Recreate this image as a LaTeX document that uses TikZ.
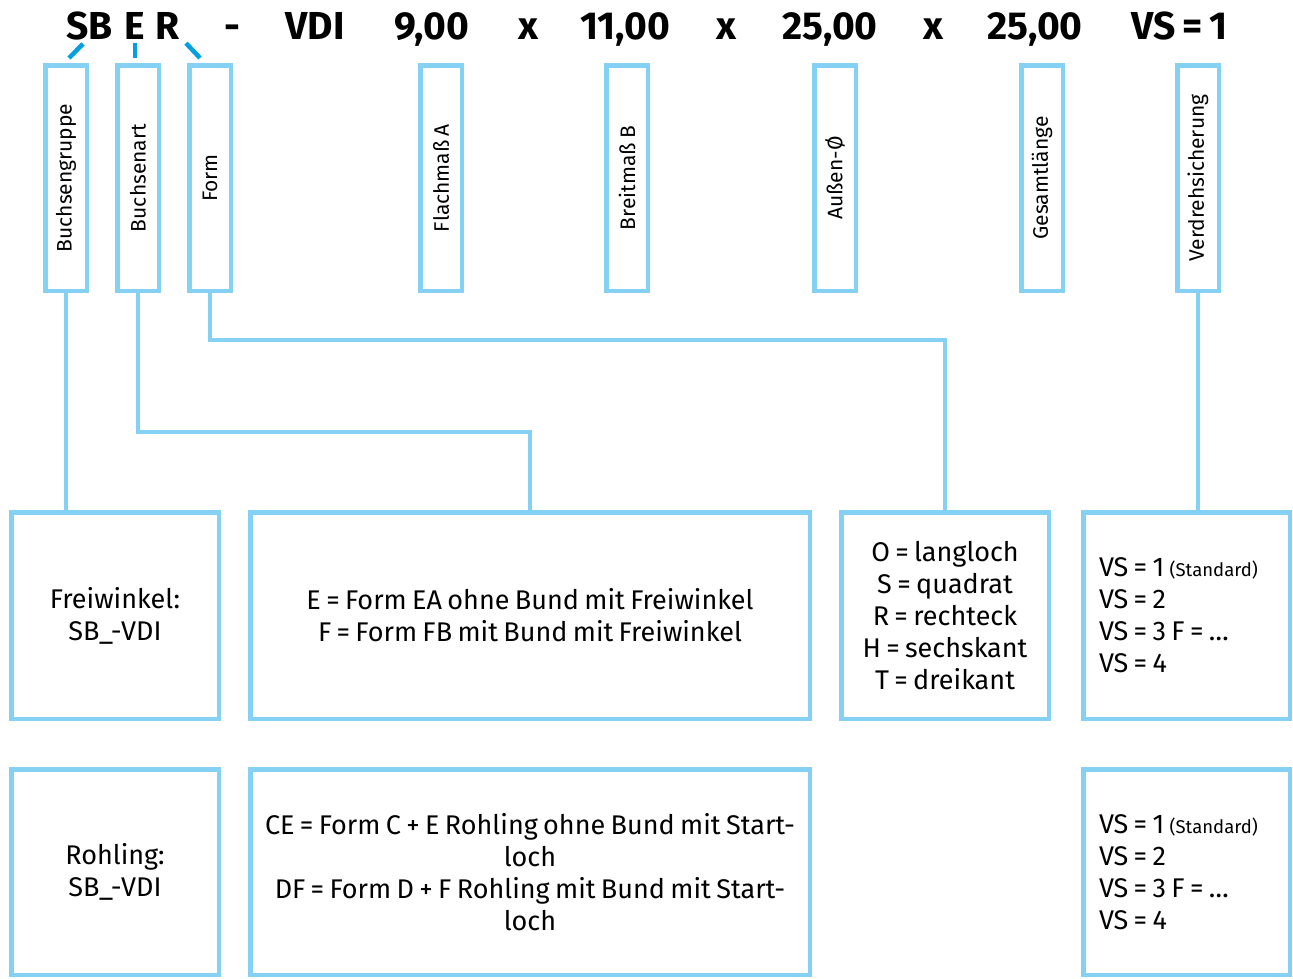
\documentclass[tikz,border=0pt]{standalone}
\usepackage{fontspec}
\setmainfont{Fira Sans}[WordSpace=0.75]
\usepackage{tikz}
\usetikzlibrary{positioning,calc}
\definecolor{framecolor}{HTML}{85D1F3}
\definecolor{tickcolor}{HTML}{00A0E3}

\begin{document}
\begin{tikzpicture}[x=1pt, y=-1pt,
    code/.style={font=\fontsize{39}{40}\selectfont\bfseries, anchor=base, inner sep=0pt},
    field/.style={draw=framecolor, line width=4.5pt, minimum width=41.5pt, minimum height=225.5pt, inner sep=0pt},
    fieldtext/.style={rotate=90, font=\fontsize{21}{24}\selectfont, inner sep=0pt},
    info/.style={draw=framecolor, line width=4.5pt, inner sep=0pt, align=center, font=\fontsize{27}{32}\selectfont},
    link/.style={draw=framecolor, line width=4.5pt},
    tick/.style={draw=tickcolor, line width=4.5pt},
  ]
  \useasboundingbox (0,0) rectangle (1293,978);
  % code line
  \node[code] (sb) at (89.5,39) {SB};
  \node[code] (e) at (135,39) {E};
  \node[code] (r) at (167.5,39) {R};
  \node[code] (dash) at (232,39) {-};
  \node[code] (vdi) at (315,39) {VDI};
  \node[code] (dima) at (432,39) {9,00};
  \node[code] (x1) at (528,39) {x};
  \node[code] (dimb) at (625,39) {11,00};
  \node[code] (x2) at (726,39) {x};
  \node[code] (dimc) at (830,39) {25,00};
  \node[code] (x3) at (933,39) {x};
  \node[code] (dimd) at (1035,39) {25,00};
  \node[code] (vs) at (1180,39) {VS = 1};
  % fields
  \node[field, label={[fieldtext]center:Buchsengruppe}] (grp) at (66,178) {};
  \node[field, label={[fieldtext]center:Buchsenart}] (art) at (138,178) {};
  \node[field, label={[fieldtext]center:Form}] (form) at (210,178) {};
  \node[field, label={[fieldtext]center:Flachmaß A}] (flach) at (441,178) {};
  \node[field, label={[fieldtext]center:Breitmaß B}] (breit) at (627,178) {};
  \node[field, label={[fieldtext]center:Außen-Ø}] (aussen) at (835,178) {};
  \node[field, label={[fieldtext]center:Gesamtlänge}] (ges) at (1042,178) {};
  \node[field, label={[fieldtext]center:Verdrehsicherung}] (vds) at (1198,178) {};
  \draw[tick] ($(sb.south)+(-6.5,4)$) -- ($(grp.north)+(3,-5)$);
  \draw[tick] ($(e.south)+(0,4)$) -- ($(art.north)+(-3,-5)$);
  \draw[tick] ($(r.south)+(18.5,4)$) -- ($(form.north)+(-10,-5)$);
  % value boxes
  \node[info, minimum width=207.5pt, minimum height=206.5pt] (frei) at (115,615.5)
    {Freiwinkel:\\SB\_-VDI};
  \node[info, minimum width=559.5pt, minimum height=206.5pt] (ea) at (530,615.5)
    {E = Form EA ohne Bund mit Freiwinkel\\F = Form FB mit Bund mit Freiwinkel};
  \node[info, minimum width=207.5pt, minimum height=206.5pt] (shape) at (945,615.5)
    {O = langloch\\S = quadrat\\R = rechteck\\H = sechskant\\T = dreikant};
  \node[info, minimum width=206.5pt, minimum height=206.5pt, align=left] (vsa) at (1186.5,615.5)
    {VS = 1 {\fontsize{18.5}{20}\selectfont(Standard)}\hbox to 16pt{}\\VS = 2\\VS = 3 F = …\\VS = 4};
  \node[info, minimum width=207.5pt, minimum height=205.5pt] (roh) at (115,872)
    {Rohling:\\SB\_-VDI};
  \node[info, minimum width=559.5pt, minimum height=205.5pt] (cd) at (530,872)
    {CE = Form C + E Rohling ohne Bund mit Start-\\loch\\DF = Form D + F Rohling mit Bund mit Start-\\loch};
  \node[info, minimum width=206.5pt, minimum height=205.5pt, align=left] (vsb) at (1186.5,872)
    {VS = 1 {\fontsize{18.5}{20}\selectfont(Standard)}\hbox to 16pt{}\\VS = 2\\VS = 3 F = …\\VS = 4};
  % links
  \coordinate (artbend) at (138,432);
  \coordinate (formbend) at (210,340);
  \draw[link] (grp.south) -- (grp.south |- frei.north);
  \draw[link] (art.south) -- (artbend) -| (ea.north);
  \draw[link] (form.south) -- (formbend) -| (shape.north);
  \draw[link] (vds.south) -- (vds.south |- vsa.north);
\end{tikzpicture}
\end{document}
